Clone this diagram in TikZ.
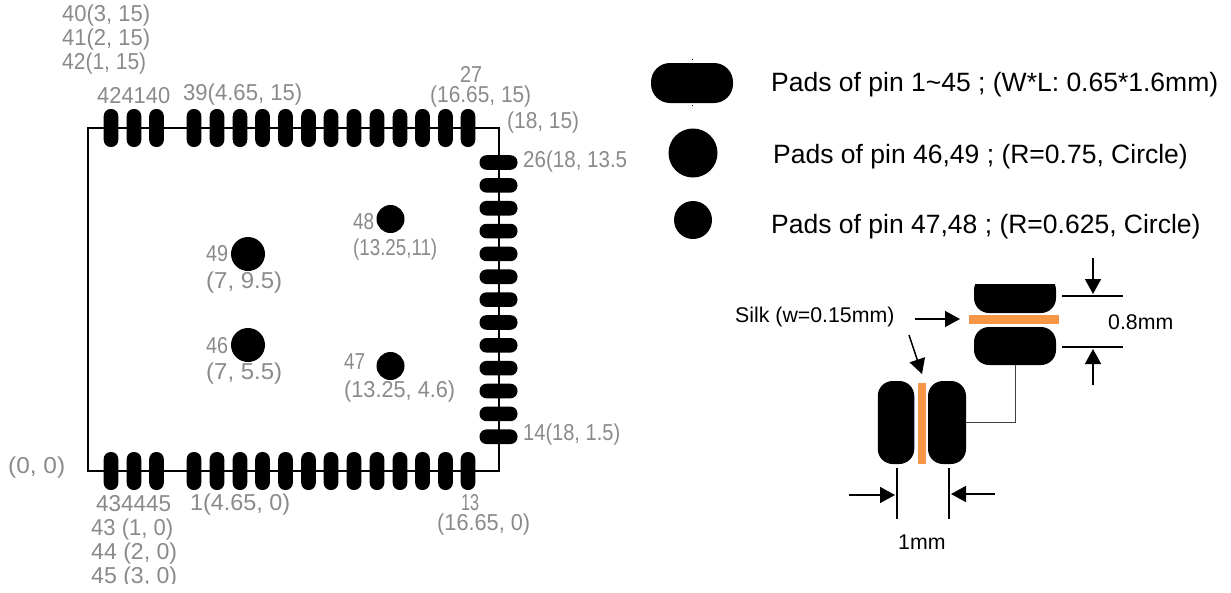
\documentclass[tikz,border=0pt]{standalone}
\usepackage{fontspec}
\usepackage{graphicx}
\setmainfont{Liberation Sans}
\usetikzlibrary{arrows.meta,shapes.misc}
\definecolor{cadgray}{HTML}{8A8A8A}
\definecolor{silk}{HTML}{F79646}
\newcommand{\cad}[2]{\resizebox{#1pt}{\height}{#2}}
\tikzset{
  padv/.style={rectangle,fill=black,inner sep=0pt,rounded corners=7pt,minimum width=14.6pt,minimum height=38pt},
  padh/.style={rectangle,fill=black,inner sep=0pt,rounded corners=7pt,minimum width=38pt,minimum height=14.6pt},
  bigpad/.style={circle,fill=black,inner sep=0pt,minimum size=34pt},
  smallpad/.style={circle,fill=black,inner sep=0pt,minimum size=28pt},
  cadlabel/.style={anchor=west,inner sep=0pt,text=cadgray,font=\fontsize{23}{25}\selectfont},
  note/.style={anchor=west,inner sep=0pt,text=black,font=\fontsize{26.5}{30}\selectfont},
  small note/.style={anchor=west,inner sep=0pt,text=black,font=\fontsize{21.3}{24}\selectfont},
  dimarrow/.style={line width=1.5pt,-{Triangle[length=15pt,width=16pt]}},
  dimline/.style={line width=1.2pt,black},
  outline/.style={line width=1.3pt,black},
  silkbar/.style={rectangle,fill=silk,inner sep=0pt},
  lead/.style={line width=1pt,black!75}
}
\begin{document}
\begin{tikzpicture}[x=1pt,y=-1pt]
\useasboundingbox (0,0) rectangle (1231,592);
% board outline
\coordinate (c00) at (88,471);
\coordinate (c01) at (88,128);
\coordinate (c11) at (499,128);
\coordinate (c10) at (499,471);
\draw[outline] (c00) -- (c01) -- (c11) -- (c10) -- cycle;
% top and bottom pads
\foreach \n/\x in {a/111,b/134,c/156.5,d/194,e/217,f/240,g/262.5,h/285.5,i/308.5,j/331,k/354,l/377,m/400,n/422.5,o/445.5,p/468}{
  \node[padv] (top\n) at (\x,128) {};
  \node[padv] (bot\n) at (\x,471) {};
}
% right pads
\foreach \i in {0,...,12}{
  \node[padh] (right\i) at (498.5,{162.5+22.85*\i}) {};
}
% round pads
\node[bigpad] (p49) at (248,254) {};
\node[bigpad] (p46) at (248,345) {};
\node[smallpad] (p48) at (390.5,219) {};
\node[smallpad] (p47) at (390.5,366) {};
% CAD labels
\node[cadlabel] (l40) at (62,16) {\cad{88}{40(3, 15)}};
\node[cadlabel] (l41) at (62,40) {\cad{88}{41(2, 15)}};
\node[cadlabel] (l42) at (62,64) {\cad{84}{42(1, 15)}};
\node[cadlabel] (ltop) at (97,96) {\cad{73}{424140}};
\node[cadlabel] (l39) at (183,95) {\cad{119}{39(4.65, 15)}};
\node[cadlabel] (l27) at (460,74) {\cad{22}{27}};
\node[cadlabel] (l27b) at (430,97) {\cad{101}{(16.65, 15)}};
\node[cadlabel] (lc) at (507,123) {\cad{72}{(18, 15)}};
\node[cadlabel] (l26) at (523,162) {\cad{104}{26(18, 13.5}};
\node[cadlabel] (l48) at (353,222) {\cad{21}{48}};
\node[cadlabel] (l48b) at (353,250) {\cad{84}{(13.25,11)}};
\node[cadlabel] (l49) at (206,254) {\cad{22}{49}};
\node[cadlabel] (l49b) at (206,283) {\cad{76}{(7, 9.5)}};
\node[cadlabel] (l46) at (206,346) {\cad{22}{46}};
\node[cadlabel] (l46b) at (206,374) {\cad{76}{(7, 5.5)}};
\node[cadlabel] (l47) at (344,362) {\cad{21}{47}};
\node[cadlabel] (l47b) at (344,392) {\cad{111}{(13.25, 4.6)}};
\node[cadlabel] (l14) at (523,435) {\cad{97}{14(18, 1.5)}};
\node[cadlabel] (l13) at (461,503) {\cad{18}{13}};
\node[cadlabel] (l13b) at (437,525) {\cad{93}{(16.65, 0)}};
\node[cadlabel] (l00) at (8,468) {\cad{57}{(0, 0)}};
\node[cadlabel] (lbot) at (96,504) {\cad{75}{434445}};
\node[cadlabel] (l1) at (190,505) {\cad{100}{1(4.65, 0)}};
\begin{scope}
\clip (0,0) rectangle (1231,583);
\node[cadlabel] (l43) at (91,530) {\cad{82}{43 (1, 0)}};
\node[cadlabel] (l44) at (91,554) {\cad{86}{44 (2, 0)}};
\node[cadlabel] (l45) at (91,578) {\cad{86}{45 (3, 0)}};
\end{scope}
% legend
\node[rectangle,fill=black,inner sep=0pt,rounded corners=19pt,minimum width=82pt,minimum height=40pt] (legpad) at (692,83) {};
\coordinate (tick1a) at (692,58.5); \coordinate (tick1b) at (692,59.5);
\coordinate (tick2a) at (692,105); \coordinate (tick2b) at (692,106);
\draw[line width=0.8pt] (tick1a) -- (tick1b);
\draw[line width=0.8pt] (tick2a) -- (tick2b);
\node[circle,fill=black,inner sep=0pt,minimum size=49pt] (legbig) at (693,153) {};
\node[circle,fill=black,inner sep=0pt,minimum size=38pt] (legsmall) at (693,220) {};
\node[note] (t1) at (771,85) {Pads of pin 1\textasciitilde45 ; (W*L: 0.65*1.6mm)};
\node[note] (t2) at (773,157) {Pads of pin 46,49 ; (R=0.75, Circle)};
\node[note] (t3) at (771,227) {Pads of pin 47,48 ; (R=0.625, Circle)};
% detail: upper pair
\begin{scope}
\clip (960,284) rectangle (1070,330);
\node[rectangle,fill=black,inner sep=0pt,rounded corners=15pt,minimum width=82pt,minimum height=38pt] (dtop) at (1015,294) {};
\end{scope}
\node[rectangle,fill=black,inner sep=0pt,rounded corners=15pt,minimum width=82pt,minimum height=38pt] (dbot) at (1015,346) {};
\node[silkbar,minimum width=90pt,minimum height=8.5pt] (silkh) at (1014,319.5) {};
% detail: left pair
\node[rectangle,fill=black,inner sep=0pt,rounded corners=15pt,minimum width=36.5pt,minimum height=83pt] (dleft) at (896,422.5) {};
\node[rectangle,fill=black,inner sep=0pt,rounded corners=15pt,minimum width=38pt,minimum height=83pt] (dright) at (947,422.5) {};
\node[silkbar,minimum width=8pt,minimum height=81pt] (silkv) at (922,423) {};
\draw[lead] (dbot.south) |- (dright.east);
% dimensions
\coordinate (a1) at (1062,296); \coordinate (a2) at (1123,296);
\coordinate (a3) at (1062,347); \coordinate (a4) at (1123,347);
\draw[dimline] (a1) -- (a2);
\draw[dimline] (a3) -- (a4);
\coordinate (b1) at (1093,258); \coordinate (b2) at (1093,294);
\coordinate (b3) at (1093,385); \coordinate (b4) at (1093,349);
\draw[dimarrow] (b1) -- (b2);
\draw[dimarrow] (b3) -- (b4);
\node[small note] (t08) at (1108,322) {0.8mm};
\node[small note] (tsilk) at (735,317) {Silk (w=0.15mm)};
\coordinate (s1) at (915,319); \coordinate (s2) at (960,319);
\coordinate (s3) at (909,335); \coordinate (s4) at (922,374);
\draw[dimarrow] (s1) -- (s2);
\draw[dimarrow] (s3) -- (s4);
\coordinate (v1) at (897,468); \coordinate (v2) at (897,519);
\coordinate (v3) at (949,468); \coordinate (v4) at (949,519);
\draw[dimline] (v1) -- (v2);
\draw[dimline] (v3) -- (v4);
\coordinate (h1) at (849,495); \coordinate (h2) at (895,495);
\coordinate (h3) at (995,494); \coordinate (h4) at (951,494);
\draw[dimarrow] (h1) -- (h2);
\draw[dimarrow] (h3) -- (h4);
\node[small note] (t1mm) at (898,542) {1mm};
\end{tikzpicture}
\end{document}
